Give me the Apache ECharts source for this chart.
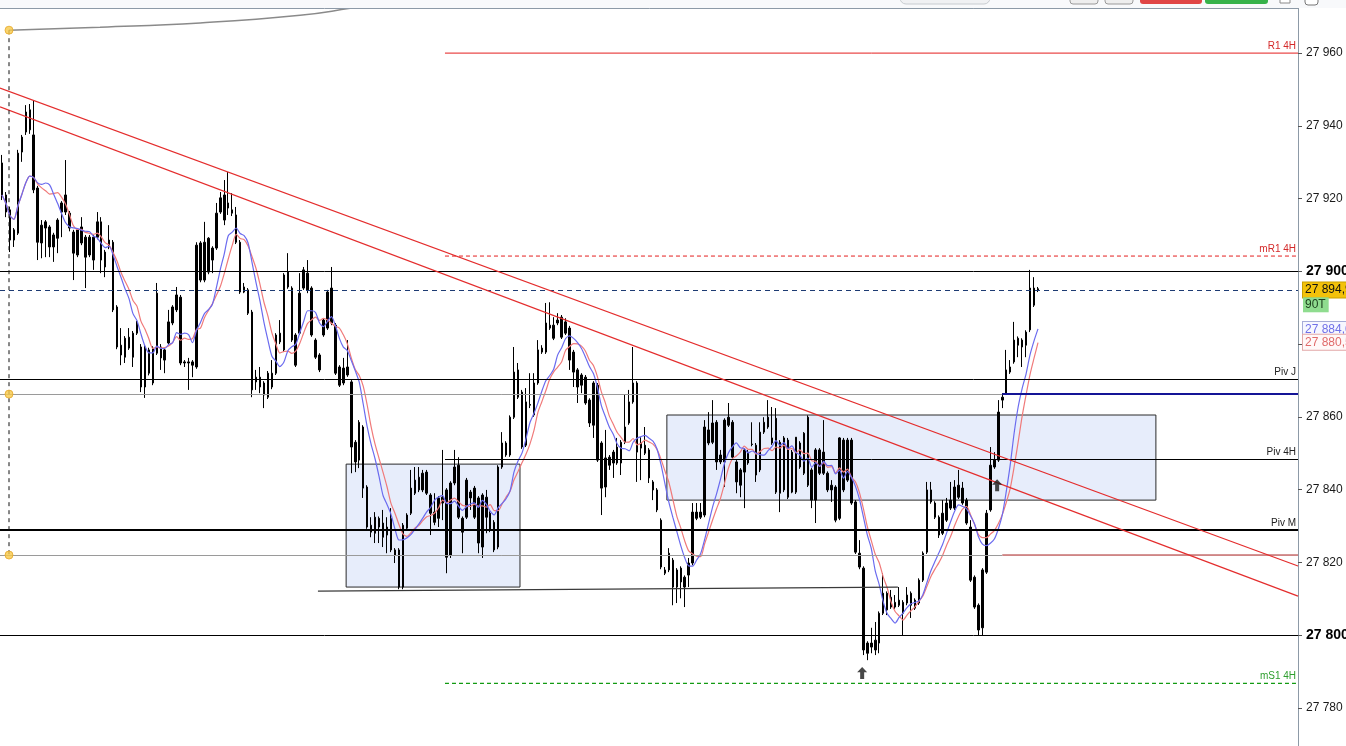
<!DOCTYPE html>
<html>
<head>
<meta charset="utf-8">
<script src="https://cdn.jsdelivr.net/npm/echarts@6/dist/echarts.min.js"></script>
<style>
html,body{margin:0;padding:0;background:#fff;}
#chart{width:1346px;height:746px;}
</style>
</head>
<body>
<div id="chart"></div>
<script>
// ---------- DATA ----------
// candles: [open, close, low, high]
const candles = [
[27929.8,27921.0,27919.6,27932.0],[27921.0,27916.3,27914.9,27921.8],[27916.9,27908.6,27905.3,27917.7],[27908.6,27911.4,27906.7,27911.9],
[27910.5,27932.5,27910.0,27933.4],[27932.8,27936.9,27930.1,27937.5],[27938.3,27943.8,27937.5,27945.7],[27944.4,27938.9,27937.8,27946.0],
[27937.5,27922.4,27921.5,27947.1],[27922.9,27908.0,27903.1,27923.5],[27907.8,27912.7,27903.6,27914.1],[27913.6,27911.9,27903.9,27914.1],
[27912.2,27906.7,27903.9,27912.7],[27906.7,27910.0,27902.6,27910.6],[27909.1,27914.1,27905.0,27914.6],[27916.3,27918.8,27909.4,27919.3],
[27921.0,27916.3,27915.5,27930.6],[27916.0,27911.9,27911.0,27916.6],[27910.8,27905.0,27897.6,27911.4],[27904.5,27911.4,27903.9,27911.9],
[27912.2,27907.8,27907.2,27914.9],[27909.4,27903.9,27895.4,27910.0],[27904.5,27909.4,27903.9,27910.0],[27909.4,27903.1,27900.4,27910.0],
[27909.4,27913.6,27908.8,27916.3],[27913.6,27903.1,27899.5,27914.9],[27905.3,27901.2,27898.4,27905.9],[27906.7,27908.6,27906.1,27912.7],
[27908.0,27889.4,27888.8,27908.6],[27890.2,27879.2,27878.6,27890.7],[27879.7,27877.0,27874.2,27884.4],[27876.4,27881.6,27874.8,27882.2],
[27881.9,27878.9,27878.4,27884.4],[27883.0,27876.4,27873.7,27883.6],[27883.0,27885.8,27882.5,27886.4],[27879.2,27868.2,27866.8,27880.0],
[27868.2,27879.2,27865.2,27879.7],[27878.4,27872.0,27871.4,27879.0],[27869.3,27878.9,27868.7,27879.4],[27877.5,27894.0,27877.0,27896.8],
[27879.2,27876.2,27872.9,27880.0],[27875.6,27878.4,27872.0,27879.0],[27880.3,27886.1,27879.7,27889.4],[27885.8,27890.2,27885.2,27890.7],
[27889.4,27893.5,27888.8,27895.7],[27892.9,27874.8,27874.2,27893.5],[27875.1,27874.8,27873.7,27875.6],[27874.8,27875.1,27867.4,27876.2],
[27875.1,27874.2,27870.9,27875.6],[27873.7,27907.2,27873.2,27908.0],[27907.8,27897.6,27897.0,27908.3],[27897.6,27908.0,27897.0,27913.6],
[27909.1,27899.8,27899.2,27909.4],[27903.1,27906.4,27899.5,27906.9],[27906.4,27916.0,27905.9,27918.8],[27916.3,27920.2,27915.8,27921.8],
[27921.0,27914.1,27912.7,27925.1],[27917.4,27918.8,27915.5,27927.3],[27916.9,27916.0,27915.2,27921.5],[27915.5,27908.0,27907.5,27917.7],
[27908.0,27894.3,27893.8,27908.6],[27895.7,27894.3,27894.0,27896.8],[27894.9,27888.5,27888.0,27895.4],[27888.8,27867.4,27865.4,27889.4],
[27869.6,27870.9,27867.4,27872.9],[27870.9,27868.2,27866.5,27873.7],[27869.3,27866.0,27862.4,27869.8],[27865.4,27872.0,27864.9,27872.6],
[27872.0,27868.2,27867.6,27875.6],[27872.0,27882.5,27871.5,27883.0],[27883.0,27880.6,27880.0,27886.6],[27878.4,27899.0,27877.8,27899.5],
[27899.8,27895.7,27895.2,27905.0],[27895.4,27881.1,27880.6,27895.9],[27882.5,27874.2,27873.7,27883.0],[27883.0,27894.0,27882.5,27899.5],
[27895.4,27900.4,27894.9,27901.2],[27899.5,27894.9,27894.0,27903.1],[27895.4,27882.5,27882.0,27895.9],[27881.1,27876.4,27875.9,27881.6],
[27877.0,27872.9,27872.3,27877.5],[27882.5,27886.6,27882.0,27887.1],[27884.4,27894.3,27883.9,27894.9],[27895.4,27885.8,27885.2,27901.2],
[27885.2,27872.0,27871.5,27885.8],[27873.7,27868.7,27868.2,27874.2],[27869.3,27873.4,27868.7,27876.2],[27871.5,27873.7,27871.0,27881.1],
[27869.6,27851.7,27844.5,27870.1],[27853.0,27847.6,27844.8,27853.6],[27848.1,27858.5,27845.9,27859.1],[27857.2,27840.4,27837.7,27857.7],
[27840.7,27829.7,27829.2,27841.2],[27830.2,27828.3,27826.9,27832.4],[27828.0,27832.4,27825.3,27833.8],[27832.1,27829.7,27825.3,27832.6],
[27830.8,27826.9,27824.2,27834.4],[27827.5,27829.7,27822.5,27832.4],[27832.1,27823.4,27822.8,27834.9],[27823.4,27822.0,27819.8,27823.9],
[27823.4,27813.2,27812.6,27823.9],[27813.2,27830.2,27812.6,27830.8],[27829.4,27833.0,27828.9,27833.5],[27833.5,27840.4,27833.0,27845.4],
[27839.0,27842.6,27838.5,27846.2],[27843.4,27839.9,27839.3,27846.2],[27839.9,27844.5,27839.3,27845.4],[27844.8,27839.0,27838.5,27845.4],
[27838.5,27833.5,27827.5,27839.0],[27833.8,27831.0,27830.2,27839.0],[27832.1,27837.7,27829.7,27838.2],[27837.9,27836.3,27831.6,27850.9],
[27839.9,27821.4,27817.0,27840.4],[27822.0,27841.8,27821.2,27842.3],[27841.8,27846.2,27841.2,27850.9],[27846.7,27832.4,27831.9,27848.9],
[27832.1,27828.3,27822.5,27832.6],[27832.4,27842.6,27831.9,27843.2],[27839.3,27837.7,27834.4,27839.9],[27832.4,27840.4,27831.9,27841.0],
[27837.7,27825.3,27822.5,27838.2],[27824.2,27838.5,27821.2,27839.0],[27837.9,27832.4,27828.0,27839.9],[27833.5,27828.9,27828.3,27834.0],
[27831.0,27823.4,27822.8,27831.6],[27824.2,27846.2,27823.6,27846.7],[27846.2,27852.8,27845.7,27855.8],[27852.8,27849.5,27849.0,27853.3],
[27849.5,27859.9,27849.0,27860.4],[27859.9,27872.3,27859.4,27879.2],[27872.9,27865.4,27864.9,27874.8],[27866.8,27851.7,27851.2,27867.4],
[27852.2,27864.1,27851.7,27867.9],[27863.2,27863.4,27862.4,27872.0],[27860.5,27869.3,27860.0,27872.0],[27869.3,27878.4,27868.8,27881.1],
[27877.8,27878.9,27877.3,27879.7],[27877.8,27885.8,27877.3,27891.3],[27884.4,27885.2,27883.9,27891.5],[27885.2,27881.6,27881.1,27887.4],
[27885.8,27886.6,27885.2,27888.5],[27887.4,27881.9,27881.4,27888.0],[27883.0,27886.1,27882.5,27887.1],[27884.4,27875.6,27872.9,27885.0],
[27877.8,27872.3,27868.2,27878.4],[27872.9,27868.2,27863.8,27873.4],[27868.7,27871.5,27866.5,27872.0],[27870.9,27863.8,27863.3,27871.5],
[27864.6,27858.3,27857.2,27865.1],[27857.7,27869.3,27854.2,27869.8],[27868.7,27848.1,27847.6,27869.3],[27852.8,27840.4,27833.0,27853.3],
[27840.7,27848.7,27837.9,27856.4],[27848.9,27846.7,27845.4,27849.5],[27847.3,27850.3,27843.2,27850.9],[27851.7,27847.3,27846.8,27854.2],
[27847.3,27853.0,27844.0,27853.6],[27853.0,27857.2,27852.5,27866.0],[27858.3,27864.1,27857.8,27867.4],[27864.1,27869.3,27863.6,27879.2],
[27869.3,27850.3,27842.1,27869.8],[27851.4,27852.8,27842.6,27854.4],[27852.2,27850.0,27849.5,27857.2],[27850.9,27843.2,27841.8,27851.4],
[27842.1,27839.9,27837.1,27842.6],[27839.9,27834.4,27833.8,27840.4],[27831.6,27818.7,27818.1,27832.1],[27817.9,27817.0,27816.5,27818.7],
[27817.9,27822.5,27817.3,27823.9],[27820.6,27813.2,27808.2,27821.2],[27813.2,27817.9,27808.8,27818.4],[27818.4,27814.6,27810.1,27818.9],
[27815.9,27813.2,27807.7,27816.4],[27816.5,27819.8,27813.2,27821.2],[27819.8,27833.8,27819.2,27836.3],[27832.1,27833.8,27831.6,27836.3],
[27833.8,27832.4,27831.9,27836.3],[27833.0,27857.2,27832.4,27859.1],[27856.4,27852.8,27852.2,27861.3],[27853.0,27858.3,27852.5,27864.6],
[27858.5,27847.6,27845.4,27859.1],[27847.6,27849.5,27847.0,27850.9],[27847.6,27859.1,27840.7,27859.6],[27857.7,27859.9,27857.2,27863.8],
[27858.5,27848.9,27848.4,27859.1],[27847.6,27842.1,27839.0,27848.1],[27841.2,27845.4,27837.9,27845.9],[27844.8,27850.9,27834.9,27851.4],
[27850.3,27847.3,27846.8,27850.9],[27852.5,27852.4,27851.9,27858.5],[27852.2,27844.0,27842.1,27852.8],[27845.4,27855.8,27844.8,27858.5],
[27855.8,27858.5,27855.3,27859.9],[27857.2,27859.9,27856.7,27864.6],[27854.2,27852.8,27852.3,27862.7],[27839.3,27859.6,27838.8,27862.4],
[27853.0,27839.0,27833.8,27853.6],[27839.9,27854.2,27839.3,27854.7],[27853.6,27837.9,27837.4,27854.2],[27839.3,27850.3,27839.0,27850.9],
[27854.4,27839.3,27838.8,27854.4],[27846.2,27852.8,27845.7,27853.3],[27855.5,27844.5,27844.0,27855.8],[27841.2,27859.9,27840.7,27860.4],
[27845.4,27837.1,27834.9,27845.9],[27837.1,27850.9,27830.8,27851.4],[27850.9,27844.5,27844.0,27851.4],[27844.5,27850.3,27844.0,27859.1],
[27844.5,27839.9,27839.3,27845.0],[27841.2,27839.9,27836.6,27842.6],[27840.7,27831.6,27831.0,27841.2],[27832.1,27854.2,27831.6,27854.4],
[27853.6,27839.9,27839.3,27854.2],[27842.6,27853.6,27842.1,27854.2],[27853.6,27836.3,27835.8,27854.2],[27836.6,27822.8,27822.3,27837.1],
[27822.5,27818.7,27818.1,27826.1],[27818.4,27795.9,27794.5,27818.9],[27797.8,27795.0,27793.1,27798.3],[27796.7,27797.8,27795.0,27802.0],
[27795.9,27798.6,27794.5,27803.6],[27797.8,27806.0,27795.0,27806.5],[27806.0,27811.5,27805.5,27817.0],[27811.5,27806.9,27805.5,27812.0],
[27807.7,27810.4,27807.2,27812.4],[27809.0,27807.7,27807.2,27811.0],[27808.2,27809.6,27807.7,27813.2],[27809.0,27806.0,27800.0,27809.6],
[27808.8,27811.0,27808.2,27813.2],[27811.5,27808.2,27804.7,27812.0],[27807.4,27809.6,27806.9,27810.1],[27808.8,27815.1,27808.3,27815.6],
[27815.1,27822.5,27814.6,27823.0],[27822.8,27839.9,27822.3,27842.1],[27839.9,27836.6,27836.1,27842.1],[27836.3,27832.4,27831.9,27836.8],
[27832.4,27827.5,27826.7,27832.9],[27828.0,27833.5,27827.5,27837.1],[27831.6,27836.3,27831.1,27837.7],[27834.9,27837.1,27834.4,27842.1],
[27834.9,27840.7,27834.4,27842.6],[27841.2,27837.9,27837.4,27845.4],[27840.4,27836.3,27835.8,27842.1],[27837.1,27830.8,27830.3,27837.7],
[27829.7,27815.1,27814.6,27831.6],[27815.9,27807.7,27807.2,27816.4],[27808.2,27801.4,27800.0,27808.7],[27802.0,27817.9,27800.0,27818.4],
[27817.3,27833.5,27816.8,27834.4],[27834.4,27846.7,27833.9,27851.7],[27846.2,27848.1,27845.7,27850.3],[27848.1,27861.3,27847.6,27864.6],
[27864.6,27865.4,27862.4,27866.5],[27866.5,27872.9,27866.0,27878.4],[27872.3,27873.7,27871.8,27875.6],[27875.1,27881.1,27874.6,27886.1],
[27879.7,27881.6,27876.4,27882.1],[27881.1,27879.2,27873.7,27881.6],[27879.7,27883.3,27876.4,27883.8],[27883.9,27895.4,27883.3,27900.4],
[27890.7,27895.4,27890.2,27898.4],[27895.2,27894.9,27894.3,27895.7]
];

const slotCount = 327;                       // candle slots across the plot (incl. empty future area)
const yTicks = [27780, 27800, 27820, 27840, 27860, 27880, 27900, 27920, 27940, 27960];
const boldTicks = [27800, 27900];
const maPeriods = [9, 11];                   // blue, red moving averages

// horizontal levels: [value, startSlot, label]
const levelR1 = [27960.0, 111.6, 'R1 4H'];
const levelMR1 = [27904.2, 111.6, 'mR1 4H'];
const levelPivJ = [27870.2, -0.5, 'Piv J'];
const levelPiv4H = [27848.4, 111.6, 'Piv 4H'];
const levelPivM = [27828.9, -0.5, 'Piv M'];
const levelMS1 = [27786.7, 111.6, 'mS1 4H'];
const levelRound = [27900, 27800];
const grayLevels = [27866.25, 27822.0];
const grayEndSlot = 252.0;
const lastPrice = 27894.9;
const lastPriceText = '27 894,9';
const timerText = '90T';
const timerValue = 27890.8;
const maTags = [[27884.0, '27 884,0'], [27880.5, '27 880,5']];

// drawings (slot, price)
const trendUpper = [[-0.5, 27950.4], [326.5, 27819.0]];
const trendLower = [[-0.5, 27945.2], [326.5, 27810.7]];
const flatLine = [[79.6, 27812.1], [225.7, 27813.2]];
const boxes = [[[86.7, 27847.0], [130.5, 27813.2]], [[167.5, 27860.5], [290.7, 27837.1]]];
const arcPoints = [[1.77, 27966.3], [24.7, 27967.1], [49.9, 27968.3], [75.1, 27970.4], [87.7, 27972.3], [95.0, 27973.6]];
const anchorDots = [[1.77, 27966.3], [1.77, 27866.25], [1.77, 27822.0]];
const arrows = [[216.7, 27789.6], [250.7, 27841.2]];

// ---------- BUILD ----------
const closes = candles.map(c => c[1]);
function sma(p) {
  return closes.map((_, i) => {
    const s = Math.max(0, i - p + 1);
    let sum = 0;
    for (let j = s; j <= i; j++) sum += closes[j];
    return +(sum / (i - s + 1)).toFixed(2);
  });
}
const fmt = v => String(Math.round(v)).replace(/\B(?=(\d{3})+(?!\d))/g, ' ');
const slots = Array.from({length: slotCount}, (_, i) => String(i));
const XEND = slotCount - 0.5;

const FONT = 'Liberation Sans, Arial, sans-serif';

// coloured partial levels as plain line series: [x1, x2, value, color, width, dash]
const colorLines = [
  [levelR1[1], XEND, levelR1[0], '#e41e1e', 1, 'solid'],
  [levelMR1[1], XEND, levelMR1[0], '#e41e1e', 1, [4, 3]],
  [levelMS1[1], XEND, levelMS1[0], '#129a12', 1.2, [4, 3]],
  [grayEndSlot, XEND, grayLevels[1], '#a51c1c', 1, 'solid']
];
const colorLineSeries = colorLines.map(h => ({
  type: 'line', xAxisIndex: 1, z: 2, silent: true, showSymbol: false, animation: false,
  data: [[h[0], h[2]], [h[1], h[2]]],
  lineStyle: {color: h[3], width: h[4], type: h[5]}
}));

// neutral lines + text labels through mark lines
const HIDDEN = {color: 'rgba(0,0,0,0)', width: 0.1, type: 'solid'};
function seg(x1, x2, v, ls, label) {
  const lb = label || {show: false};
  return [{coord: [x1, v], lineStyle: ls, label: lb}, {coord: [x2, v], lineStyle: ls, label: lb}];
}
function textAt(value, text, label) {
  return seg(XEND - 1, XEND, value, HIDDEN, Object.assign({show: true, formatter: text, fontFamily: FONT}, label));
}
const levelLabel = (lv, color) => textAt(lv[0], lv[2], {position: 'insideEndTop', distance: 2, fontSize: 10, color: color});
const tag = (value, text, style) => textAt(value, text, Object.assign({position: 'end', distance: 5, fontSize: 12, padding: [2, 3, 1, 2]}, style));

const markLines = [
  seg(levelPivJ[1], XEND, levelPivJ[0], {color: '#000', width: 1, type: 'solid'}),
  seg(levelPiv4H[1], XEND, levelPiv4H[0], {color: '#000', width: 1, type: 'solid'}),
  seg(levelPivM[1], XEND, levelPivM[0], {color: '#000', width: 2, type: 'solid'}),
  seg(-0.5, XEND, levelRound[0], {color: '#000', width: 1, type: 'solid'}),
  seg(-0.5, XEND, levelRound[1], {color: '#000', width: 1, type: 'solid'}),
  seg(-0.5, grayEndSlot, grayLevels[0], {color: '#9a9a9a', width: 1, type: 'solid'}),
  seg(-0.5, grayEndSlot, grayLevels[1], {color: '#9a9a9a', width: 1, type: 'solid'}),
  seg(grayEndSlot, XEND, grayLevels[0], {color: '#141496', width: 2, type: 'solid'}),
  seg(-0.5, XEND, lastPrice, {color: '#1d3b73', width: 1, type: [5, 4]}),
  levelLabel(levelR1, '#d42a2a'),
  levelLabel(levelMR1, '#d42a2a'),
  levelLabel(levelPivJ, '#222'),
  levelLabel(levelPiv4H, '#222'),
  levelLabel(levelPivM, '#222'),
  levelLabel(levelMS1, '#2e9e2e'),
  tag(lastPrice, lastPriceText, {color: '#111', backgroundColor: '#f3c20a', borderColor: '#caa000', borderWidth: 1}),
  tag(timerValue, timerText, {color: '#1c3d1c', backgroundColor: '#8fdc8f'}),
  tag(maTags[0][0], maTags[0][1], {color: '#7070e8', backgroundColor: '#f6f7ff', borderColor: '#a6acd8', borderWidth: 1}),
  tag(maTags[1][0], maTags[1][1], {color: '#e06a6a', backgroundColor: '#fff8f8', borderColor: '#e2a8a8', borderWidth: 1})
];

const chart = echarts.init(document.getElementById('chart'), null, {renderer: 'canvas'});
const option = {
  animation: false,
  backgroundColor: '#ffffff',
  grid: {left: 0, right: 48, top: 8, bottom: 0, containLabel: false, outerBoundsMode: 'none'},
  xAxis: [
    {type: 'category', data: slots, boundaryGap: true, show: false},
    {type: 'value', min: -0.5, max: XEND, show: false}
  ],
  yAxis: {
    type: 'value', position: 'right', min: 27769.5, max: 27972.4, scale: true,
    axisLine: {show: true, onZero: false, lineStyle: {color: '#8d9aa7', width: 1}},
    axisTick: {show: true, length: 4, customValues: yTicks, lineStyle: {color: '#555'}},
    axisLabel: {
      show: true, customValues: yTicks, margin: 8, color: '#1a1a1a', fontSize: 12, fontFamily: FONT,
      formatter: v => boldTicks.includes(Math.round(v)) ? '{b|' + fmt(v) + '}' : fmt(v),
      rich: {b: {fontWeight: 'bold', fontSize: 14, color: '#000', fontFamily: FONT}}
    },
    splitLine: {show: false}
  },
  graphic: [
    {type: 'rect', shape: {x: 0, y: 0, width: 1346, height: 8}, style: {fill: '#f8f9fb'}, z: 100},
    {type: 'rect', shape: {x: 900, y: -10, width: 90, height: 14, r: 6}, style: {fill: '#f0f1f3', stroke: '#c8ccd0'}, z: 101},
    {type: 'rect', shape: {x: 1070, y: -5, width: 28, height: 9, r: 3}, style: {fill: '#eeeeee', stroke: '#9a9a9a'}, z: 101},
    {type: 'rect', shape: {x: 1105, y: -5, width: 28, height: 9, r: 3}, style: {fill: '#eeeeee', stroke: '#9a9a9a'}, z: 101},
    {type: 'rect', shape: {x: 1140, y: -5, width: 62, height: 9, r: 3}, style: {fill: '#e04646'}, z: 101},
    {type: 'rect', shape: {x: 1205, y: -5, width: 63, height: 9, r: 3}, style: {fill: '#36b24a'}, z: 101},
    {type: 'rect', shape: {x: 1280, y: -4, width: 10, height: 7}, style: {fill: '#fff', stroke: '#8a8a8a'}, z: 101},
    {type: 'rect', shape: {x: 1305, y: -6, width: 13, height: 11, r: 3}, style: {fill: '#fff', stroke: '#777'}, z: 101},
    {type: 'line', shape: {x1: 0, y1: 8.5, x2: 1298.5, y2: 8.5}, style: {stroke: '#8d9aa7', lineWidth: 1}, z: 101}
  ],
  series: [
    {
      type: 'line', xAxisIndex: 1, data: [], z: 1, silent: true,
      markArea: {
        silent: true,
        itemStyle: {color: '#e7edfb', borderColor: '#2a2a2a', borderWidth: 1},
        data: boxes.map(b => [{coord: b[0]}, {coord: b[1]}])
      }
    },
    ...colorLineSeries,
    {
      type: 'line', xAxisIndex: 1, data: [], z: 2, silent: true,
      markLine: {silent: true, symbol: ['none', 'none'], animation: false, data: markLines}
    },
    {
      type: 'candlestick', xAxisIndex: 0, yAxisIndex: 0, data: candles, z: 3, barWidth: 2,
      itemStyle: {color: '#000', color0: '#000', borderColor: '#000', borderColor0: '#000', borderWidth: 1}
    },
    {
      type: 'line', xAxisIndex: 0, data: sma(maPeriods[1]), z: 4, showSymbol: false, smooth: 0.25, silent: true,
      lineStyle: {color: '#f07a7a', width: 1.2}
    },
    {
      type: 'line', xAxisIndex: 0, data: sma(maPeriods[0]), z: 4, showSymbol: false, smooth: 0.25, silent: true,
      lineStyle: {color: '#6b6bef', width: 1.2}
    },
    {
      type: 'line', xAxisIndex: 1, data: trendUpper, z: 5, showSymbol: false, silent: true,
      lineStyle: {color: '#e42d2d', width: 1.2}
    },
    {
      type: 'line', xAxisIndex: 1, data: trendLower, z: 5, showSymbol: false, silent: true,
      lineStyle: {color: '#e42d2d', width: 1.2}
    },
    {
      type: 'line', xAxisIndex: 1, data: flatLine, z: 5, showSymbol: false, silent: true,
      lineStyle: {color: '#3a3a3a', width: 1.2}
    },
    {
      type: 'line', xAxisIndex: 1, data: arcPoints, z: 5, showSymbol: false, smooth: true, silent: true,
      lineStyle: {color: '#8a8a8a', width: 1.5}
    },
    {
      type: 'line', xAxisIndex: 1, data: [anchorDots[0], anchorDots[2]], z: 5, showSymbol: false, silent: true,
      lineStyle: {color: '#111', width: 1, type: [4, 4]}
    },
    {
      type: 'scatter', xAxisIndex: 1, data: anchorDots, z: 6, symbol: 'circle', symbolSize: 8, silent: true,
      itemStyle: {color: '#f7c948', borderColor: '#e6a92a', borderWidth: 1}
    },
    {
      type: 'scatter', xAxisIndex: 1, data: arrows, z: 6, silent: true,
      symbol: 'path://M5 0L10 5L7 5L7 11L3 11L3 5L0 5Z', symbolSize: [10, 12],
      itemStyle: {color: '#1a1a1a'}
    }
  ]
};
chart.setOption(option);
</script>
</body>
</html>
